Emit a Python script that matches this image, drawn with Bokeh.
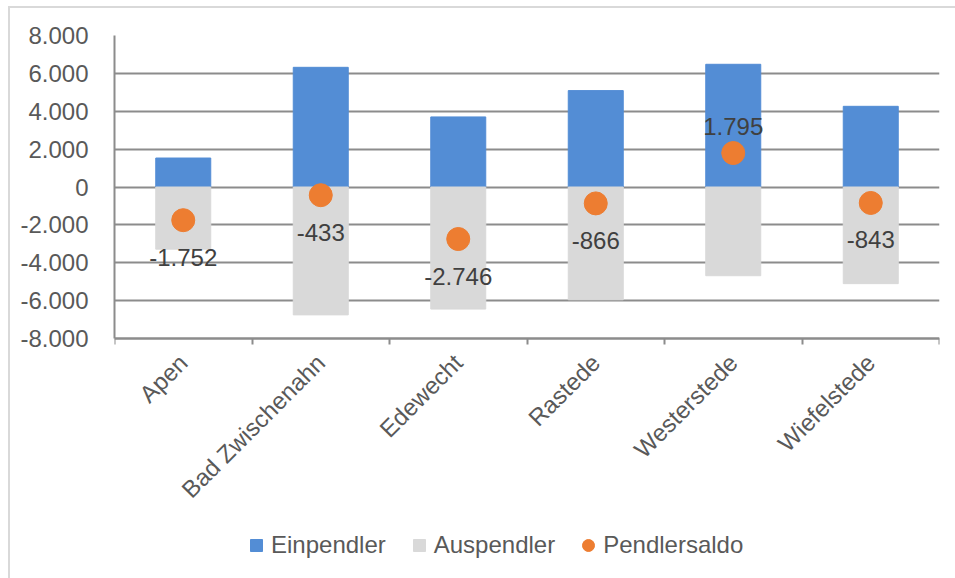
import math

from bokeh.core.properties import value
from bokeh.embed import file_html
from bokeh.models import (ColumnDataSource, FixedTicker, LabelSet, Legend,
                          LegendItem, Range1d)
from bokeh.plotting import figure
from bokeh.resources import INLINE

# Commuter figures per municipality
gemeinden = ["Apen", "Bad Zwischenahn", "Edewecht", "Rastede", "Westerstede", "Wiefelstede"]
einpendler = [1530, 6320, 3700, 5090, 6480, 4260]
auspendler = [3282, 6753, 6446, 5956, 4685, 5103]
pendlersaldo = [-1752, -433, -2746, -866, 1795, -843]

y_ticks = [-8000, -6000, -4000, -2000, 0, 2000, 4000, 6000, 8000]
y_tick_labels = ["-8.000", "-6.000", "-4.000", "-2.000", "0", "2.000", "4.000", "6.000", "8.000"]

BLUE = "#538DD5"
GREY = "#D9D9D9"
ORANGE = "#ED7D31"
AXIS_GREY = "#8c8c8c"
FONT = "Liberation Sans"
FONT_SIZE = "24px"

# Value axis occupies the top 303 px of the frame; the rest below holds
# the category labels and the legend.
AXIS_PX = 303
BELOW_PX = 240
y_min, y_max = y_ticks[0], y_ticks[-1]
y_start = y_min - (y_max - y_min) * BELOW_PX / AXIS_PX


def de_format(v):
    return f"{v:,}".replace(",", ".")


n = len(gemeinden)
centers = [i + 0.5 for i in range(n)]
source = ColumnDataSource(dict(
    x=centers,
    ein=einpendler,
    aus=[-a for a in auspendler],
    saldo=pendlersaldo,
    label=[de_format(v) for v in pendlersaldo],
    yoff=[27 if v > 0 else -37 for v in pendlersaldo],
))

p = figure(
    frame_width=825, frame_height=AXIS_PX + BELOW_PX,
    x_range=Range1d(0, n), y_range=Range1d(y_start, y_max),
    output_backend="svg", toolbar_location=None,
    min_border_left=104, min_border_right=16, min_border_top=27, min_border_bottom=0,
    margin=(6, 0, 0, 8),
    styles={"border-top": "2px solid #d9d9d9", "border-left": "2px solid #d9d9d9"},
)
p.outline_line_color = None
p.background_fill_color = "white"

# Bars above and below the zero line
p.vbar(x="x", top="ein", bottom=0, width=0.4, color=BLUE, source=source)
p.vbar(x="x", top=0, bottom="aus", width=0.4, color=GREY, source=source)
p.scatter(x="x", y="saldo", size=23, color=ORANGE, source=source)

p.add_layout(LabelSet(
    x="x", y="saldo", text="label", y_offset="yoff", source=source,
    text_align="center", text_baseline="middle",
    text_font=value(FONT), text_font_size=FONT_SIZE, text_color="#404040",
))

# Y axis and grid
p.yaxis.ticker = FixedTicker(ticks=y_ticks)
p.yaxis.bounds = (y_min, y_max)
p.yaxis.major_label_overrides = dict(zip(y_ticks, y_tick_labels))
p.yaxis.major_tick_line_color = None
p.yaxis.minor_tick_line_color = None
p.yaxis.axis_line_color = AXIS_GREY
p.yaxis.axis_line_width = 2
p.yaxis.major_label_standoff = 20
p.yaxis.major_label_text_font = FONT
p.yaxis.major_label_text_font_size = FONT_SIZE
p.yaxis.major_label_text_color = "#595959"
p.ygrid.ticker = FixedTicker(ticks=y_ticks)
p.ygrid.grid_line_color = AXIS_GREY
p.ygrid.grid_line_width = 2
p.xgrid.grid_line_color = None

# X axis at the bottom of the value range: names at the category centres,
# tick marks at the category boundaries
p.xaxis.fixed_location = y_min
p.xaxis.ticker = FixedTicker(ticks=centers, minor_ticks=list(range(n + 1)))
p.xaxis.major_label_overrides = dict(zip(centers, gemeinden))
p.xaxis.major_label_orientation = math.pi / 4
p.xaxis.major_tick_line_color = None
p.xaxis.minor_tick_line_color = AXIS_GREY
p.xaxis.minor_tick_line_width = 2
p.xaxis.minor_tick_out = 6
p.xaxis.minor_tick_in = 0
p.xaxis.axis_line_color = AXIS_GREY
p.xaxis.axis_line_width = 2
p.xaxis.major_label_standoff = 14
p.xaxis.major_label_text_font = FONT
p.xaxis.major_label_text_font_size = FONT_SIZE
p.xaxis.major_label_text_color = "#595959"

# Legend entries, underneath the category labels
leg_ein = p.scatter(x=[-10], y=[0], marker="square", size=12, color=BLUE)
leg_aus = p.scatter(x=[-10], y=[0], marker="square", size=12, color=GREY)
leg_saldo = p.scatter(x=[-10], y=[0], marker="circle", size=12, color=ORANGE)
legend = Legend(
    items=[
        LegendItem(label="Einpendler", renderers=[leg_ein]),
        LegendItem(label="Auspendler", renderers=[leg_aus]),
        LegendItem(label="Pendlersaldo", renderers=[leg_saldo]),
    ],
    orientation="horizontal", location=(127, 18),
    glyph_width=30, glyph_height=30, label_standoff=0, spacing=18,
    label_text_font=FONT, label_text_font_size=FONT_SIZE, label_text_color="#595959",
    border_line_color=None, background_fill_alpha=0, padding=0, margin=0,
)
p.add_layout(legend, "center")

open("out.html", "w").write(file_html(p, INLINE))
